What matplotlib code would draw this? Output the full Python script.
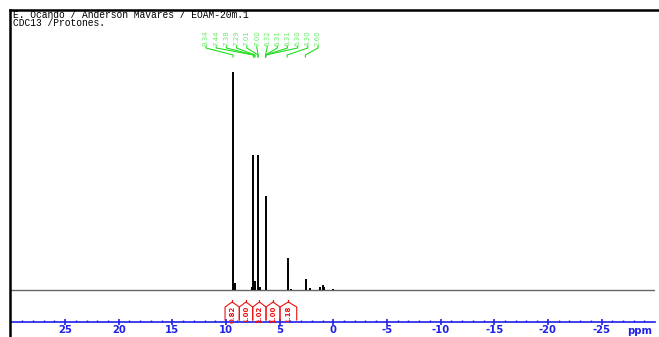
import matplotlib.pyplot as plt
from matplotlib.lines import Line2D
import numpy as np

plt.rcParams['axes.unicode_minus'] = False

# header
title_lines = ["E. Ocando / Anderson Mavares / EOAM-20m.1", "CDC13 /Protones."]

# spectrum peaks (ppm, relative intensity)
peak_ppm = [9.34, 9.20, 7.62, 7.46, 7.29, 6.99, 6.85, 6.31, 4.25, 3.90, 2.55, 2.20, 1.25, 1.00, 0.90, 0.00]
peak_int = [100, 3, 1.5, 62, 4, 62, 1.5, 43, 14.7, 0.6, 5.0, 1.0, 1.2, 2.3, 1.6, 0.5]

# peak pick labels
pick_labels = [9.34, 7.44, 7.38, 7.29, 7.01, 7.00, 6.32, 6.31, 6.31, 6.30, 4.30, 2.60]

# integrals: region edges (ppm) and values
int_edges = [10.09, 8.76, 7.51, 6.27, 4.97, 3.41]
int_values = [0.82, 1.00, 1.02, 1.00, 1.18]

W, H = 659, 337
fig = plt.figure(figsize=(W / 100, H / 100), dpi=100)

# axes in pixel layout
px_per_ppm = 10.73
x_zero = 333.3
ax_left = x_zero - 30 * px_per_ppm
ax_w = 60 * px_per_ppm
ax_top, ax_bot = 10, 322
ax = fig.add_axes([ax_left / W, 1 - ax_bot / H, ax_w / W, (ax_bot - ax_top) / H])

base_px = 290
unit = 2.18
ax.set_xlim(30, -30)
ax.set_ylim((base_px - ax_bot) / unit, (base_px - ax_top) / unit)

blue = '#2020e8'
ax.spines['top'].set_visible(False)
ax.spines['right'].set_visible(False)
ax.spines['left'].set_visible(False)
ax.spines['bottom'].set_color(blue)
ax.spines['bottom'].set_linewidth(1.2)
ax.set_yticks([])
ax.set_xticks([25, 20, 15, 10, 5, 0, -5, -10, -15, -20, -25])
ax.set_xticks(np.arange(-29, 30, 1), minor=True)
ax.tick_params(axis='x', which='major', direction='inout', length=4, width=1.2,
               color=blue, labelcolor=blue, labelsize=7.2, pad=0.3)
ax.tick_params(axis='x', which='minor', direction='in', length=1.8, width=1, color=blue)
for lab in ax.get_xticklabels():
    lab.set_fontweight('bold')
ax.text(640 / W, 1 - 330.5 / H, "ppm", transform=fig.transFigure, color=blue,
        fontsize=7.2, fontweight='bold', ha='center', va='center')

# baseline + peaks
ax.axhline(0, color='#666666', lw=1.0, zorder=1)
ax.vlines(peak_ppm, 0, peak_int, color='black', lw=1.4, zorder=2)

# peak pick labels + connectors
green = '#22dd22'
lab_x = np.linspace((x_zero - 206) / px_per_ppm, (x_zero - 318) / px_per_ppm, len(pick_labels))
y_txt = (base_px - 46) / unit
y_a = (base_px - 48) / unit
y_b = (base_px - 55) / unit
y_c = (base_px - 57) / unit
for lx, val in zip(lab_x, pick_labels):
    ax.text(lx, y_txt, f"{val:.2f}", rotation=90, color='#66ee66', fontsize=5,
            ha='center', va='bottom', family='DejaVu Sans')
    ax.plot([lx, lx, val, val], [y_txt, y_a, y_b, y_c], color=green, lw=0.8)

# integrals
red = '#ee1111'
yb = (base_px - 320) / unit
ys = (base_px - 307) / unit
yr = (base_px - 302) / unit
for x0, x1, v in zip(int_edges[:-1], int_edges[1:], int_values):
    xm = (x0 + x1) / 2
    ax.plot([x0, x0, xm, x1, x1], [yb, ys, yr, ys, yb], color=red, lw=0.8)
    ax.plot([xm, xm], [yr, yr + 0.8], color=red, lw=0.8)
    ax.text(xm, (yb + ys) / 2 - 0.3, f"{v:.2f}", rotation=90, color=red, fontsize=5,
            fontweight='bold', ha='center', va='center')

# frame lines
fig.add_artist(Line2D([10 / W, 1], [1 - 10 / H, 1 - 10 / H], color='black', lw=1.8,
                      transform=fig.transFigure))
fig.add_artist(Line2D([10 / W, 10 / W], [0, 1 - 10 / H], color='black', lw=1.8,
                      transform=fig.transFigure))

# header text
for i, line in enumerate(title_lines):
    fig.text(13 / W, 1 - (14.5 + 9 * i) / H, line, family='Liberation Mono', fontsize=6.9,
             color='black', va='center', ha='left')

fig.savefig("out.png", dpi=100)
